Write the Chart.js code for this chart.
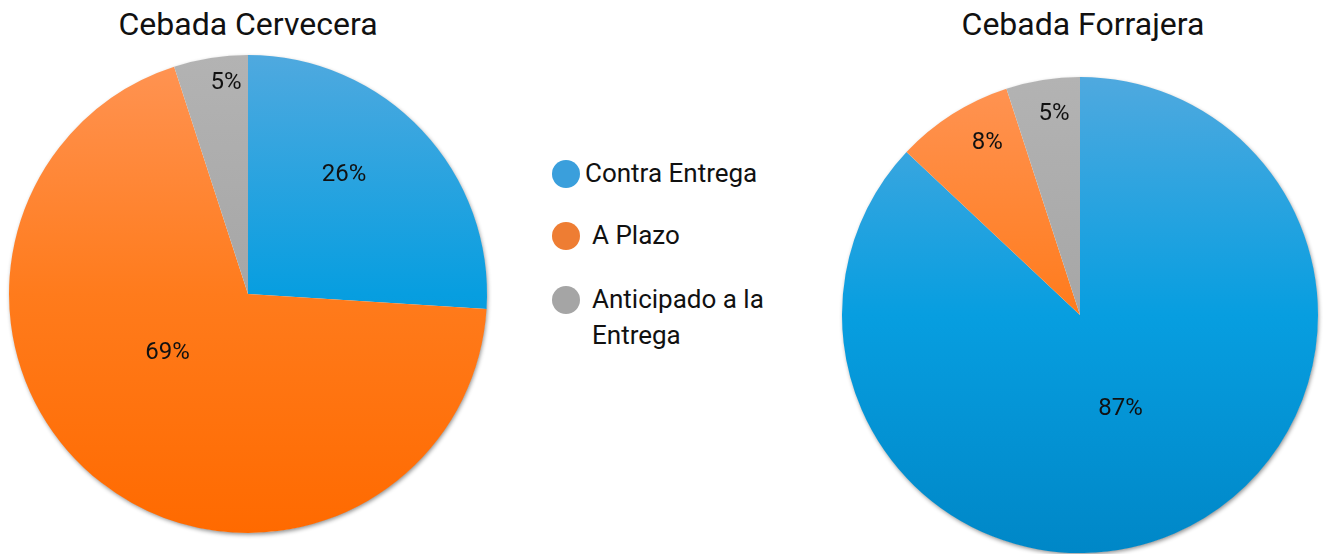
<!DOCTYPE html>
<html>
<head>
<meta charset="utf-8">
<script src="https://cdn.jsdelivr.net/npm/chart.js@4.4.1/dist/chart.umd.min.js"></script>
<style>
  html, body { margin: 0; padding: 0; width: 1330px; height: 554px; overflow: hidden; background: #fff; font-family: Roboto, "Noto Sans", sans-serif; }
  .title { position: absolute; top: 5px; font-size: 32px; color: #111; text-align: center; width: 496px; }
  .wrap { position: absolute; width: 496px; height: 496px; }
  #legend { position: absolute; left: 552px; top: 155px; font-size: 26px; color: #111; }
  .item { position: relative; padding-left: 40px; line-height: 36px; }
  .dot { position: absolute; left: 0; width: 28px; height: 28px; border-radius: 50%; top: 5px; }
</style>
</head>
<body>
<div class="title" style="left:0px">Cebada Cervecera</div>
<div class="title" style="left:835px">Cebada Forrajera</div>
<div class="wrap" style="left:0px; top:46px"><canvas id="c1"></canvas></div>
<div class="wrap" style="left:832px; top:67px"><canvas id="c2"></canvas></div>
<div id="legend"></div>
<script>
const categories = ["Contra Entrega", "A Plazo", "Anticipado a la Entrega"];
const cerveceraValues = [26, 69, 5];
const forrajeraValues = [87, 8, 5];
const legendColors = ["#3a9fdc", "#ee7d33", "#a5a5a5"];
// label placement per slice: [fraction along slice angle, fraction of radius]
const cerveceraLabelPos = [[0.415, 0.64], [0.564, 0.418], [0.67, 0.887]];
const forrajeraLabelPos = [[0.5, 0.43], [0.64, 0.82], [0.59, 0.85]];

const gradStops = [
  [[0, "#4fa9df"], [0.5, "#079ee0"], [1, "#0087c7"]],
  [[0, "#ff9454"], [0.5, "#ff7b1c"], [1, "#ff6a00"]],
  [[0, "#b3b3b3"], [1, "#999999"]]
];

function bg(ctx) {
  const chart = ctx.chart;
  const area = chart.chartArea;
  if (!area) return legendColors[ctx.dataIndex];
  const g = chart.ctx.createLinearGradient(0, area.top, 0, area.bottom);
  gradStops[ctx.dataIndex].forEach(s => g.addColorStop(s[0], s[1]));
  return g;
}

const shadowPlugin = {
  id: 'shadow',
  beforeDatasetsDraw(chart) {
    const meta = chart.getDatasetMeta(0);
    if (!meta.data.length) return;
    const p = meta.data[0].getProps(['x', 'y', 'outerRadius']);
    const c = chart.ctx;
    c.save();
    c.shadowColor = 'rgba(0,0,0,0.45)';
    c.shadowBlur = 4;
    c.shadowOffsetX = 1;
    c.shadowOffsetY = 2;
    c.fillStyle = '#ffffff';
    c.beginPath();
    c.arc(p.x, p.y, p.outerRadius - 0.5, 0, Math.PI * 2);
    c.fill();
    c.restore();
  }
};

const labelPlugin = {
  id: 'pctLabels',
  afterDatasetsDraw(chart, args, opts) {
    const c = chart.ctx;
    const meta = chart.getDatasetMeta(0);
    const data = chart.data.datasets[0].data;
    c.save();
    c.font = '24px Roboto, sans-serif';
    c.fillStyle = '#111';
    c.textAlign = 'center';
    c.textBaseline = 'middle';
    meta.data.forEach((arc, i) => {
      const p = arc.getProps(['x', 'y', 'startAngle', 'endAngle', 'outerRadius']);
      const a = p.startAngle + (p.endAngle - p.startAngle) * opts.pos[i][0];
      const r = p.outerRadius * opts.pos[i][1];
      c.fillText(data[i] + '%', p.x + Math.cos(a) * r, p.y + Math.sin(a) * r);
    });
    c.restore();
  }
};

function makePie(id, values, pos, pad) {
  return new Chart(document.getElementById(id), {
    type: 'pie',
    data: {
      labels: categories,
      datasets: [{ data: values, backgroundColor: bg, borderWidth: 0 }]
    },
    options: {
      responsive: true,
      maintainAspectRatio: false,
      animation: false,
      layout: { padding: pad },
      plugins: {
        legend: { display: false },
        tooltip: { enabled: false },
        pctLabels: { pos: pos }
      }
    },
    plugins: [shadowPlugin, labelPlugin]
  });
}

makePie('c1', cerveceraValues, cerveceraLabelPos, 9);
makePie('c2', forrajeraValues, forrajeraLabelPos, 10);

const leg = document.getElementById('legend');
const legendLabels = ["Contra Entrega", "A Plazo", "Anticipado a la<br>Entrega"];
const gaps = [0, 26, 28];
const indents = [33, 40, 40];
legendLabels.forEach((t, i) => {
  const d = document.createElement('div');
  d.className = 'item';
  d.style.marginTop = gaps[i] + 'px';
  d.style.paddingLeft = indents[i] + 'px';
  d.innerHTML = '<span class="dot" style="background:' + legendColors[i] + '"></span>' + t;
  leg.appendChild(d);
});
</script>
</body>
</html>
